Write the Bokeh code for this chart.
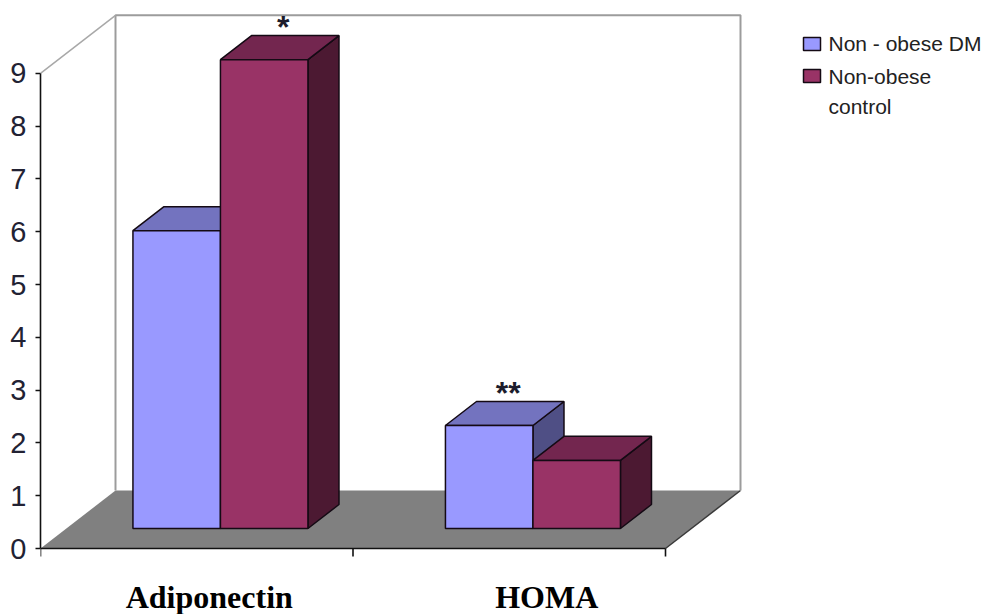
from bokeh.plotting import figure
from bokeh.models import Range1d, LinearAxis, FixedTicker
from bokeh.core.properties import value
from bokeh.embed import file_html
from bokeh.resources import INLINE

# ---- data -------------------------------------------------------------
categories = ["Adiponectin", "HOMA"]
series_names = ["Non - obese DM", "Non-obese\ncontrol"]
dm_values = [5.64, 1.95]
control_values = [8.88, 1.29]
dm_marks = ["", "**"]
control_marks = ["*", ""]
y_ticks = [0, 1, 2, 3, 4, 5, 6, 7, 8, 9]
y_max = 9

# ---- pseudo-3D geometry (oblique projection) --------------------------
PX_PER_CAT = 312.5          # horizontal pixels per category
PX_PER_UNIT = 52.8          # vertical pixels per value unit
ORIGIN_X, ORIGIN_Y = 40, 548
KX = 75 / PX_PER_CAT        # depth vector, x part (data units)
KY = 58 / PX_PER_UNIT       # depth vector, y part (data units)
Z_FRONT, Z_BACK = 0.345, 0.759   # bar depth span (fraction of floor depth)
BAR_W = 0.28
GROUP_CENTER = 0.493


def proj(x, y, z):
    return x + z * KX, y + z * KY


def quad(pts):
    xs, ys = zip(*pts)
    return list(xs), list(ys)


def px_x(px):
    return (px - ORIGIN_X) / PX_PER_CAT


def px_y(py):
    return (ORIGIN_Y - py) / PX_PER_UNIT


n_cat = len(categories)
p = figure(width=992, height=614,
           x_range=Range1d(px_x(40), px_x(992)),
           y_range=Range1d(px_y(614), px_y(0)),
           x_axis_location=None, y_axis_location=None,
           output_backend="svg", toolbar_location=None,
           min_border_left=40, min_border_right=0,
           min_border_top=0, min_border_bottom=0,
           outline_line_color=None, background_fill_color="white")
p.xgrid.grid_line_color = None
p.ygrid.grid_line_color = None

# floor
fx, fy = quad([proj(0, 0, 0), proj(n_cat, 0, 0), proj(n_cat, 0, 1), proj(0, 0, 1)])
p.patch(fx, fy, fill_color="#808080", line_color=None)
ex, ey = quad([proj(n_cat, 0, 0), proj(n_cat, 0, 1)])
p.line(ex, ey, line_color="#3a3a3a", line_width=1.5)

# walls
wx, wy = quad([proj(0, 0, 1), proj(0, y_max, 1), proj(n_cat, y_max, 1), proj(n_cat, 0, 1)])
p.line(wx, wy, line_color="#9c9c9c", line_width=2)
dx, dy = quad([proj(0, y_max, 0), proj(0, y_max, 1)])
p.line(dx, dy, line_color="#a8a8a8", line_width=1.5)

# bottom axis line and category ticks
p.segment(x0=[0], y0=[0], x1=[n_cat], y1=[0], line_color="#111111", line_width=1.6)
tick_len = 8 / PX_PER_UNIT
p.segment(x0=list(range(n_cat + 1)), y0=[0] * (n_cat + 1),
          x1=list(range(n_cat + 1)), y1=[-tick_len] * (n_cat + 1),
          line_color="#111111", line_width=1.6)

# bars
palette = [
    {"front": "#9999FF", "top": "#7373BF", "side": "#4F4F85"},
    {"front": "#993366", "top": "#73264F", "side": "#4C1932"},
]
for s, vals in enumerate([dm_values, control_values]):
    fronts, tops, sides = ([], []), ([], []), ([], [])
    for i, v in enumerate(vals):
        x0 = i + GROUP_CENTER - BAR_W + s * BAR_W
        x1 = x0 + BAR_W
        fr = quad([proj(x0, 0, Z_FRONT), proj(x1, 0, Z_FRONT), proj(x1, v, Z_FRONT), proj(x0, v, Z_FRONT)])
        tp = quad([proj(x0, v, Z_FRONT), proj(x1, v, Z_FRONT), proj(x1, v, Z_BACK), proj(x0, v, Z_BACK)])
        sd = quad([proj(x1, 0, Z_FRONT), proj(x1, 0, Z_BACK), proj(x1, v, Z_BACK), proj(x1, v, Z_FRONT)])
        for acc, shape in ((fronts, fr), (tops, tp), (sides, sd)):
            acc[0].append(shape[0])
            acc[1].append(shape[1])
    col = palette[s]
    p.patches(sides[0], sides[1], fill_color=col["side"], line_color="#140a14", line_width=1.5)
    p.patches(tops[0], tops[1], fill_color=col["top"], line_color="#140a14", line_width=1.5)
    p.patches(fronts[0], fronts[1], fill_color=col["front"], line_color="#140a14", line_width=1.5)

# significance marks above bars
mx, my, mt = [], [], []
for s, (vals, marks) in enumerate([(dm_values, dm_marks), (control_values, control_marks)]):
    for i, (v, m) in enumerate(zip(vals, marks)):
        if not m:
            continue
        xc = i + GROUP_CENTER - BAR_W / 2 + s * BAR_W
        ax, ay = proj(xc, v, Z_BACK)
        mx.append(xc + 0.6 * KX)
        my.append(ay + 9 / PX_PER_UNIT)
        mt.append(m)
p.text(x=mx, y=my, text=mt, text_font=value("Liberation Sans"), text_font_style="bold",
       text_font_size="32px", text_align="center", text_baseline="alphabetic",
       text_color="#1c1c2c")

# category labels
label_nudge = [0.04, 0.12]
lx = [i + 0.5 + label_nudge[i] for i in range(n_cat)]
ly = [px_y(596)] * n_cat
p.text(x=lx, y=ly, text=categories, text_font=value("Liberation Serif"), text_font_style="bold",
       text_font_size="32px", text_align="center", text_baseline="alphabetic",
       text_color="#000000")

# value axis
yaxis = LinearAxis(ticker=FixedTicker(ticks=y_ticks), bounds=(0, y_max),
                   axis_line_color="#111111", axis_line_width=1.6,
                   major_tick_line_color="#111111", major_tick_line_width=1.6,
                   major_tick_in=0, major_tick_out=5,
                   minor_tick_line_color=None, major_label_standoff=9,
                   major_label_text_font="Liberation Sans",
                   major_label_text_font_size="29px",
                   major_label_text_color="#222233")
p.add_layout(yaxis, "left")

# legend: swatches and labels placed at the right of the walls
swatch_top = [37, 69]
p.quad(left=[px_x(803)] * 2, right=[px_x(820)] * 2,
       top=[px_y(t) for t in swatch_top], bottom=[px_y(t + 13) for t in swatch_top],
       fill_color=[palette[0]["front"], palette[1]["front"]],
       line_color="#140a14", line_width=1.5)
legend_lines = series_names[0].split("\n") + series_names[1].split("\n")
legend_line_y = [43, 76, 106]
p.text(x=[px_x(828)] * len(legend_lines), y=[px_y(py) for py in legend_line_y],
       text=legend_lines, text_font=value("Liberation Sans"), text_font_size="21px",
       text_align="left", text_baseline="middle", text_color="#222222")

open("out.html", "w").write(file_html(p, INLINE))
